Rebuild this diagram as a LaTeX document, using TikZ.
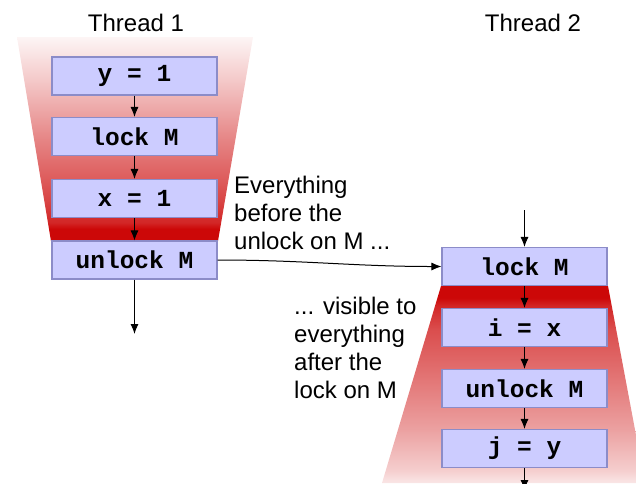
\documentclass[tikz,border=0pt]{standalone}
\usepackage{fontspec}
\setmainfont{Liberation Sans}
\setsansfont{Liberation Sans}
\setmonofont{Liberation Mono}
\usetikzlibrary{arrows.meta}
\definecolor{tred}{RGB}{204,8,8}
\definecolor{boxfill}{RGB}{204,204,255}
\definecolor{boxline}{RGB}{140,140,200}
\pgfdeclareverticalshading{tOne}{100bp}{color(0bp)=(tred); color(25bp)=(tred); color(28bp)=(tred); color(29.5bp)=(tred!88!white); color(35bp)=(tred!75!white); color(49.6bp)=(tred!50!white); color(64.4bp)=(tred!22!white); color(75bp)=(tred!4!white); color(100bp)=(tred!4!white)}
\pgfdeclareverticalshading{tTwo}{100bp}{color(0bp)=(tred!10!white); color(25bp)=(tred!10!white); color(28.3bp)=(tred!20!white); color(38.5bp)=(tred!38!white); color(51bp)=(tred!55!white); color(64bp)=(tred!72!white); color(70bp)=(tred!88!white); color(72bp)=(tred); color(100bp)=(tred)}
\tikzset{
  codebox/.style={draw=boxline, fill=boxfill, line width=1.1pt, minimum width=165pt, minimum height=38pt, inner sep=0pt, font=\ttfamily\bfseries\fontsize{24.5}{28}\selectfont},
  flow/.style={line width=1pt, -{Latex[length=10pt,width=8pt]}},
  label/.style={font=\fontsize{24}{28}\selectfont, inner sep=0pt},
  note/.style={font=\fontsize{24}{28}\selectfont, inner sep=0pt, align=left, anchor=base west}
}
\begin{document}
\begin{tikzpicture}[x=1pt,y=-1pt]
\useasboundingbox (0,0) rectangle (636,483);
% happens-before regions
\shade[shading=tOne] (17,37) -- (253,37) -- (218,241) -- (51,241) -- cycle;
\shade[shading=tTwo] (441,286) -- (608,286) -- (645,483) -- (382,483) -- cycle;
% labels
\node[label, anchor=base] (t1) at (136,31) {Thread 1};
\node[label, anchor=base] (t2) at (533,31) {Thread 2};
% thread 1
\node[codebox] (a1) at (134.5,76) {y = 1};
\node[codebox] (a2) at (134.5,136.5) {lock M};
\node[codebox] (a3) at (134.5,198.5) {x = 1};
\node[codebox] (a4) at (134.5,260) {unlock M};
\coordinate (a5) at (134.5,334);
\draw[flow] (a1) -- (a2);
\draw[flow] (a2) -- (a3);
\draw[flow] (a3) -- (a4);
\draw[flow] (a4) -- (a5);
% thread 2
\coordinate (b0) at (524.5,210);
\node[codebox] (b1) at (524.5,266.5) {lock M};
\node[codebox] (b2) at (524.5,327.5) {i = x};
\node[codebox] (b3) at (524.5,388.5) {unlock M};
\node[codebox] (b4) at (524.5,448.5) {j = y};
\coordinate (b5) at (524.5,490);
\draw[flow] (b0) -- (b1);
\draw[flow] (b1) -- (b2);
\draw[flow] (b2) -- (b3);
\draw[flow] (b3) -- (b4);
\draw[flow] (b4) -- (b5);
% synchronizes-with
\draw[flow] (a4.east) to[out=0,in=180] (b1.west);
% notes
\node[note] (n1) at (234,249) {Everything\\before the\\unlock on M ...};
\node[note] (n2) at (294,398) {... visible to\\everything\\after the\\lock on M};
\end{tikzpicture}
\end{document}
